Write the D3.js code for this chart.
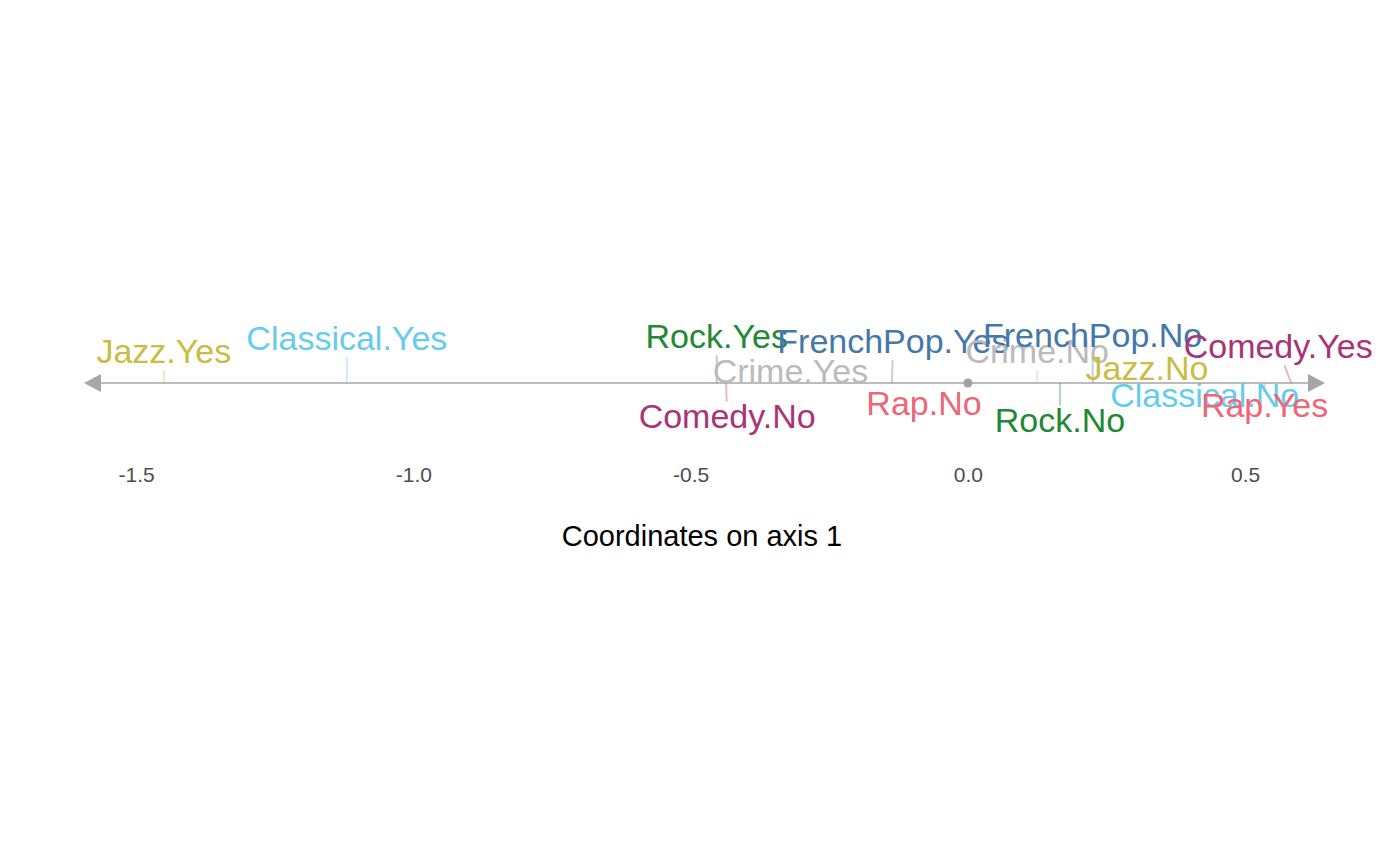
<!DOCTYPE html>
<html>
<head>
<meta charset="utf-8">
<script src="https://cdn.jsdelivr.net/npm/d3@7"></script>
<style>
  html, body { margin: 0; padding: 0; background: #ffffff; }
  svg { display: block; font-family: "Liberation Sans", Arial, Helvetica, sans-serif; }
</style>
</head>
<body>
<svg id="chart" width="1400" height="866"></svg>
<script>
// ---- data ----
const categories = ["Jazz.Yes", "Classical.Yes", "Rock.Yes", "Comedy.No", "Crime.Yes",
  "FrenchPop.Yes", "Rap.No", "Crime.No", "Rock.No", "FrenchPop.No", "Jazz.No",
  "Classical.No", "Rap.Yes", "Comedy.Yes"];
const variables = ["Jazz", "Classical", "Rock", "Comedy", "Crime",
  "FrenchPop", "Rap", "Crime", "Rock", "FrenchPop", "Jazz",
  "Classical", "Rap", "Comedy"];
const coord1 = [-1.450, -1.120, -0.453, -0.436, -0.320,
  -0.137, -0.081, 0.125, 0.166, 0.225, 0.323,
  0.427, 0.535, 0.583];
const tickValues = [-1.5, -1.0, -0.5, 0.0, 0.5];
const xExtent = [-1.594, 0.644];
const axisTitle = "Coordinates on axis 1";

// ---- layout (label nudges in px, relative to each point on the axis) ----
const labelNudge = {
  "Jazz.Yes": [0, -20], "Classical.Yes": [0, -33], "Rock.Yes": [0, -35],
  "Comedy.No": [1, 45], "Crime.Yes": [0, 0], "FrenchPop.Yes": [1, -30],
  "Rap.No": [1, 32], "Crime.No": [0, -20], "Rock.No": [0, 49],
  "FrenchPop.No": [0, -36], "Jazz.No": [0, -3], "Classical.No": [0, 24],
  "Rap.Yes": [0, 34], "Comedy.Yes": [-13, -25]
};
const palette = {
  Jazz: "#CCBB44", Classical: "#66CCEE", Rock: "#228833", Comedy: "#AA3377",
  Crime: "#BBBBBB", FrenchPop: "#4477AA", Rap: "#EE6677"
};

const svg = d3.select("#chart");
const axisY = 383;
const x = d3.scaleLinear().domain(xExtent).range([84, 1325]);
const axisColor = "#A6A6A6";
const labelSize = 34;

// axis line with arrows
const arrowLen = 17, arrowHalf = 9;
svg.append("line")
  .attr("x1", x(xExtent[0]) + arrowLen - 2).attr("x2", x(xExtent[1]) - arrowLen + 2)
  .attr("y1", axisY).attr("y2", axisY)
  .attr("stroke", axisColor).attr("stroke-width", 1.6);
const x0 = x(xExtent[0]), x1 = x(xExtent[1]);
svg.append("path")
  .attr("d", `M${x0},${axisY}L${x0 + arrowLen},${axisY - arrowHalf}L${x0 + arrowLen},${axisY + arrowHalf}Z`)
  .attr("fill", axisColor);
svg.append("path")
  .attr("d", `M${x1},${axisY}L${x1 - arrowLen},${axisY - arrowHalf}L${x1 - arrowLen},${axisY + arrowHalf}Z`)
  .attr("fill", axisColor);

// origin dot
svg.append("circle").attr("cx", x(0)).attr("cy", axisY).attr("r", 4.5).attr("fill", "#A0A0A0");

// tick labels (axis without domain/ticks)
const axisG = svg.append("g").attr("transform", `translate(0,${axisY + 86})`)
  .call(d3.axisBottom(x).tickValues(tickValues).tickFormat(d3.format(".1f")).tickSize(0).tickPadding(0));
axisG.select(".domain").remove();
axisG.selectAll("text")
  .attr("font-family", "Liberation Sans, Arial, sans-serif")
  .attr("font-size", 21).attr("fill", "#4D4D4D").attr("dy", "0.6em")
  .text(d => d3.format(".1f")(d).replace("−", "-"));

// title
svg.append("text")
  .attr("x", 702).attr("y", 546)
  .attr("text-anchor", "middle").attr("font-size", 29).attr("fill", "#000")
  .text(axisTitle);

// data
const data = categories.map((c, i) => ({
  name: c, variable: variables[i], value: coord1[i],
  px: x(coord1[i]), lx: x(coord1[i]) + labelNudge[c][0], ly: axisY + labelNudge[c][1]
}));

// segments (computed from label boxes, pointing to the label centre)
const segG = svg.append("g");
const labG = svg.append("g");
const labels = labG.selectAll("text").data(data).join("text")
  .attr("x", d => d.lx).attr("y", d => d.ly)
  .attr("text-anchor", "middle")
  .attr("font-size", labelSize)
  .attr("fill", d => palette[d.variable])
  .text(d => d.name);

labels.each(function(d) {
  const w = this.getComputedTextLength();
  const left = d.lx - w / 2 - 2, right = d.lx + w / 2 + 2;
  const top = d.ly - 0.72 * labelSize - 2, bottom = d.ly + 0.21 * labelSize;
  const inside = d.px >= left && d.px <= right && axisY >= top && axisY <= bottom;
  if (inside) return;
  const cxL = d.lx, cyL = (top + bottom) / 2;
  const dxv = cxL - d.px, dyv = cyL - axisY;
  // smallest t at which the ray enters the box
  let tEnter = 0;
  if (dxv !== 0) {
    const tA = (left - d.px) / dxv, tB = (right - d.px) / dxv;
    tEnter = Math.max(tEnter, Math.min(tA, tB));
  }
  if (dyv !== 0) {
    const tA = (top - axisY) / dyv, tB = (bottom - axisY) / dyv;
    tEnter = Math.max(tEnter, Math.min(tA, tB));
  }
  const ex = d.px + dxv * tEnter, ey = axisY + dyv * tEnter;
  const len = Math.hypot(ex - d.px, ey - axisY);
  if (len > 6) {
    segG.append("line")
      .attr("x1", d.px).attr("y1", axisY).attr("x2", ex).attr("y2", ey)
      .attr("stroke", palette[d.variable]).attr("stroke-opacity", 0.35)
      .attr("stroke-width", 2);
  }
});
</script>
</body>
</html>
